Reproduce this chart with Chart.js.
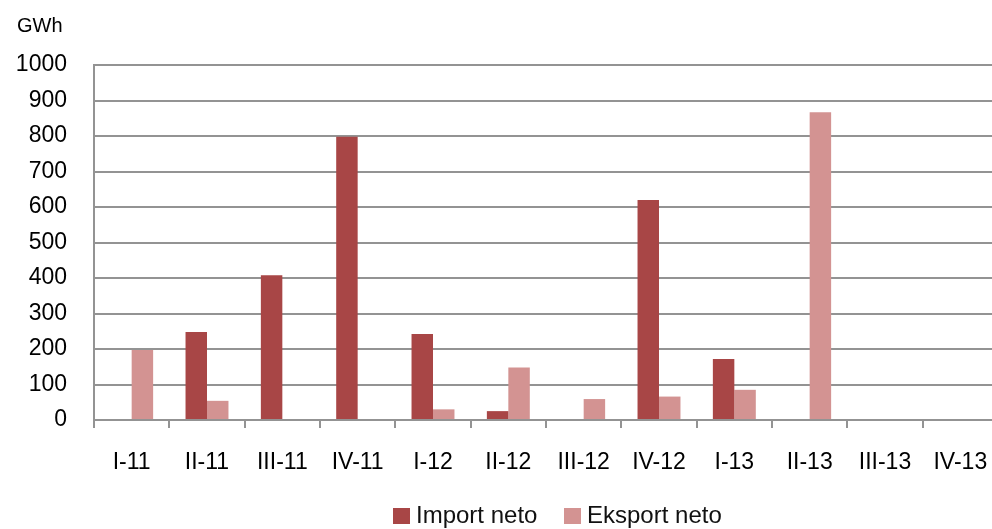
<!DOCTYPE html>
<html>
<head>
<meta charset="utf-8">
<script src="https://cdn.jsdelivr.net/npm/chart.js@4.4.0/dist/chart.umd.min.js"></script>
<style>
  html, body { margin: 0; padding: 0; background: #fff; overflow: hidden; }
  #wrap { position: relative; width: 992px; height: 529px; overflow: hidden; font-family: 'Liberation Sans', sans-serif; }
  #unit { position: absolute; left: 17px; top: 14px; font-size: 20px; color: #000; font-family: 'Liberation Sans Narrow', 'Liberation Sans', sans-serif; }
  .item { position: absolute; top: 501px; font-size: 24px; color: #111; white-space: nowrap; line-height: 28px; }
  .item span.box { display: inline-block; width: 17px; height: 16px; vertical-align: -1px; margin-right: 6px; }
</style>
</head>
<body>
<div id="wrap">
  <canvas id="chart" width="998" height="529"></canvas>
  <div id="unit">GWh</div>
  <div id="legend"></div>
</div>
<script>
var quarters = ['I-11', 'II-11', 'III-11', 'IV-11', 'I-12', 'II-12', 'III-12', 'IV-12', 'I-13', 'II-13', 'III-13', 'IV-13'];
var importNeto = [0, 248, 408, 798, 242, 25, 0, 620, 172, 0, 0, 0];
var eksportNeto = [197, 54, 0, 0, 30, 148, 59, 66, 85, 867, 0, 0];
var seriesNames = ['Import neto', 'Eksport neto'];
var seriesColors = ['#a84646', '#d39392'];

var gridColor = '#939393';

var ctx = document.getElementById('chart').getContext('2d');
var myChart = new Chart(ctx, {
    type: 'bar',
    data: {
        labels: quarters,
        datasets: [
            {
                label: seriesNames[0],
                data: importNeto,
                backgroundColor: seriesColors[0],
                barPercentage: 1,
                categoryPercentage: 0.57
            },
            {
                label: seriesNames[1],
                data: eksportNeto,
                backgroundColor: seriesColors[1],
                barPercentage: 1,
                categoryPercentage: 0.57
            }
        ]
    },
    options: {
        responsive: false,
        animation: false,
        layout: { padding: { top: 65, right: 0, left: 0, bottom: 0 } },
        plugins: {
            legend: { display: false },
            tooltip: { enabled: false }
        },
        scales: {
            x: {
                grid: {
                    drawOnChartArea: false,
                    drawTicks: true,
                    tickLength: 8,
                    color: gridColor,
                    lineWidth: 2
                },
                border: { color: gridColor, width: 2 },
                ticks: {
                    padding: 21,
                    color: '#000',
                    font: { family: 'Liberation Sans', size: 23 },
                    maxRotation: 0
                },
                afterFit: function (scale) {
                    scale.height = 109;
                    // plot runs to the right edge, no room kept for the last label
                    scale.paddingLeft = 0;
                    scale.paddingRight = 0;
                }
            },
            y: {
                min: 0,
                max: 1000,
                ticks: {
                    stepSize: 100,
                    padding: 27,
                    color: '#000',
                    font: { family: 'Liberation Sans', size: 23 },
                    callback: function (v) { return String(v); }
                },
                grid: {
                    drawTicks: false,
                    color: gridColor,
                    lineWidth: 2
                },
                border: { color: gridColor, width: 2 },
                afterFit: function (scale) { scale.width = 94; }
            }
        }
    }
});

// legend in html, placed like the original
var legendLeft = [393, 564];
var legendHtml = '';
seriesNames.forEach(function (name, i) {
    legendHtml += '<div class="item" style="left:' + legendLeft[i] + 'px"><span class="box" style="background:' + seriesColors[i] + '"></span>' + name + '</div>';
});
document.getElementById('legend').innerHTML = legendHtml;
</script>
</body>
</html>
